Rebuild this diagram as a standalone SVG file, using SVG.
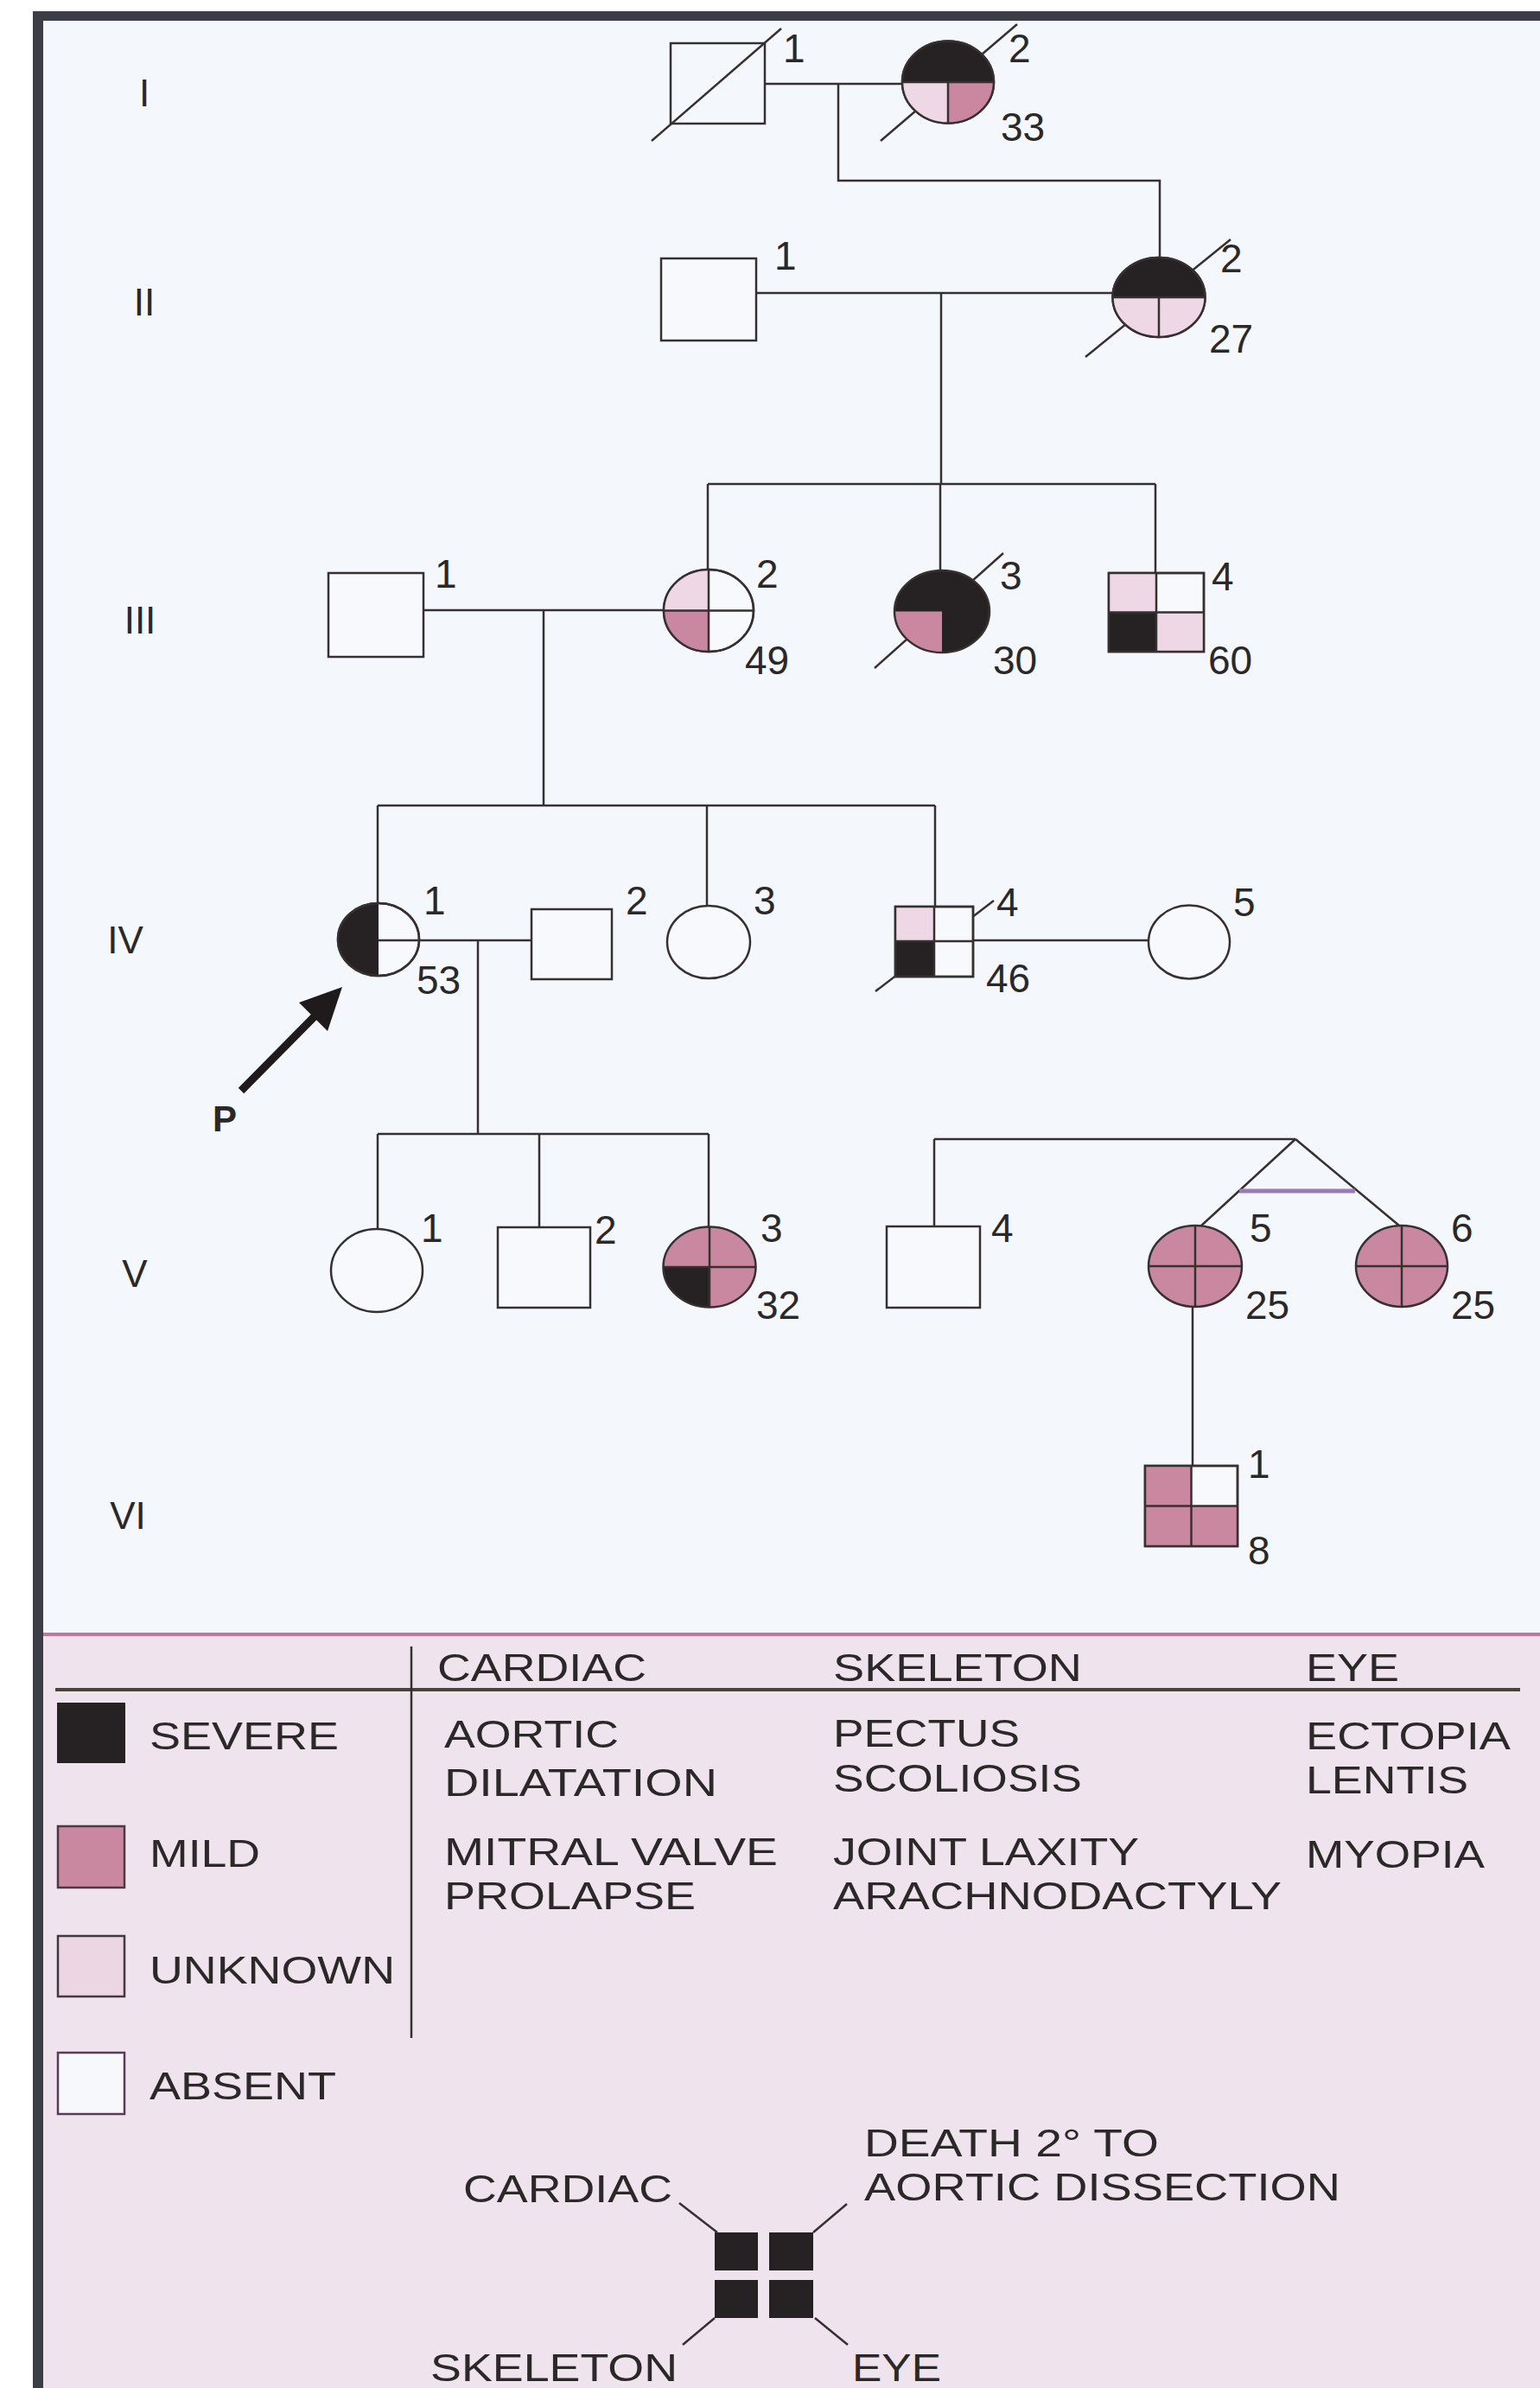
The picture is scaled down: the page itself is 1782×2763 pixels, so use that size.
<svg xmlns="http://www.w3.org/2000/svg" width="1782" height="2763" viewBox="0 0 1782 2763">
<style>
text{font-family:"Liberation Sans",Arial,Helvetica,sans-serif;fill:#2b2828}
.n{font-size:46px}
.g{font-size:44px}
.lg text{font-size:44px}
.ln{fill:none;stroke:#363031;stroke-width:2.5}
.sh{fill:none;stroke:#363031;stroke-width:2.5}
.wh{fill:#f7f9fc;stroke:#363031;stroke-width:2.5}
.bk{fill:#262122}
.md{fill:#c9889f}
.uk{fill:#efd8e5}
</style>
<rect x="0" y="0" width="1782" height="2763" fill="#ffffff"/>
<rect x="50" y="24" width="1732" height="1867" fill="#f4f8fc"/>
<rect x="50" y="1891" width="1732" height="872" fill="#efe3ee"/>
<rect x="38" y="13" width="1744" height="11" fill="#3d3d48"/>
<rect x="38" y="13" width="12" height="2750" fill="#3d3d48"/>
<line x1="50" y1="1891" x2="1782" y2="1891" stroke="#c5759a" stroke-width="4"/>

<g id="generation-labels" class="g" text-anchor="middle">
<text x="167" y="123">I</text>
<text x="167" y="365">II</text>
<text x="162" y="733">III</text>
<text x="145" y="1103">IV</text>
<text x="156" y="1489">V</text>
<text x="148" y="1769">VI</text>
</g>

<g id="connectors">
<path class="ln" d="M885,97 H1044"/>
<path class="ln" d="M970,97 V209 H1342 V298"/>
<path class="ln" d="M875,339 H1288"/>
<path class="ln" d="M1089,339 V560"/>
<path class="ln" d="M819,560 H1337"/>
<path class="ln" d="M819,560 V659 M1088,560 V660 M1337,560 V663"/>
<path class="ln" d="M490,706 H768"/>
<path class="ln" d="M629,706 V932"/>
<path class="ln" d="M437,932 H1082"/>
<path class="ln" d="M437,932 V1045 M818,932 V1048 M1082,932 V1049"/>
<path class="ln" d="M553,1088 V1312"/>
<path class="ln" d="M1126,1088 H1330"/>
<path class="ln" d="M437,1312 H820 M437,1312 V1422 M624,1312 V1420 M820,1312 V1419"/>
<path class="ln" d="M1081,1318 H1499 M1081,1318 V1419"/>
<path class="ln" d="M1499,1318 L1388,1420 M1499,1318 L1619,1418"/>
<path d="M1434,1378 H1568" fill="none" stroke="#9b7ab5" stroke-width="5"/>
<path class="ln" d="M1380,1512 V1696"/>
<g id="proband-arrow">
<line x1="279" y1="1262" x2="364" y2="1176" stroke="#1f1b1c" stroke-width="9"/>
<polygon points="396,1142 379,1193 346,1160" fill="#1f1b1c"/>
<text x="246" y="1309" style="font-size:42px;font-weight:bold">P</text>
</g>
</g>

<g id="I-1">
<rect x="776" y="50" width="109" height="93" style="fill:none;stroke:#363031;stroke-width:2.5"/>
<line class="sh" x1="754" y1="163" x2="904" y2="33"/>
<text class="n" x="906" y="72">1</text>
</g>

<g id="I-2">
<line class="sh" x1="1019" y1="163" x2="1177" y2="28"/>
<ellipse class="wh" cx="1097" cy="95" rx="53" ry="47.5"/>
<path class="bk" d="M1044,95 A53,47.5 0 0 1 1150,95 Z"/>
<path class="uk" d="M1097,95 V142.5 A53,47.5 0 0 1 1044,95 Z"/>
<path class="md" d="M1097,95 H1150 A53,47.5 0 0 1 1097,142.5 Z"/>
<path class="ln" d="M1044,95 H1150 M1097,95 V142.5"/>
<ellipse class="sh" cx="1097" cy="95" rx="53" ry="47.5"/>
<text class="n" x="1167" y="72">2</text>
<text class="n" x="1158" y="163">33</text>
</g>

<g id="II-1">
<rect class="wh" x="765" y="299" width="110" height="95"/>
<text class="n" x="896" y="312">1</text>
</g>

<g id="II-2">
<line class="sh" x1="1256" y1="413" x2="1424" y2="277"/>
<ellipse class="wh" cx="1341" cy="344" rx="53.5" ry="46"/>
<path class="bk" d="M1287.5,344 A53.5,46 0 0 1 1394.5,344 Z"/>
<path class="uk" d="M1341,344 V390 A53.5,46 0 0 1 1287.5,344 Z"/>
<path class="uk" d="M1341,344 H1394.5 A53.5,46 0 0 1 1341,390 Z"/>
<path class="ln" d="M1287.5,344 H1394.5 M1341,344 V390"/>
<ellipse class="sh" cx="1341" cy="344" rx="53.5" ry="46"/>
<text class="n" x="1412" y="315">2</text>
<text class="n" x="1399" y="408">27</text>
</g>

<g id="III-1">
<rect class="wh" x="380" y="663" width="110" height="97"/>
<text class="n" x="503" y="680">1</text>
</g>

<g id="III-2">
<ellipse class="wh" cx="820" cy="706.5" rx="52" ry="47.5"/>
<path class="uk" d="M820,706.5 H768 A52,47.5 0 0 1 820,659 Z"/>
<path class="md" d="M820,706.5 V754 A52,47.5 0 0 1 768,706.5 Z"/>
<path class="ln" d="M768,706.5 H872 M820,659 V754"/>
<ellipse class="sh" cx="820" cy="706.5" rx="52" ry="47.5"/>
<text class="n" x="875" y="680">2</text>
<text class="n" x="862" y="780">49</text>
</g>

<g id="III-3">
<line class="sh" x1="1012" y1="773" x2="1161" y2="640"/>
<ellipse class="bk" cx="1090" cy="707.5" rx="55" ry="47.5"/>
<path class="md" d="M1090,707.5 V755 A55,47.5 0 0 1 1035,707.5 Z"/>
<ellipse class="sh" cx="1090" cy="707.5" rx="55" ry="47.5"/>
<text class="n" x="1157" y="682">3</text>
<text class="n" x="1149" y="780">30</text>
</g>

<g id="III-4">
<rect class="wh" x="1283" y="663" width="110" height="91"/>
<rect class="uk" x="1283" y="663" width="55" height="45.5"/>
<rect class="bk" x="1283" y="708.5" width="55" height="45.5"/>
<rect class="uk" x="1338" y="708.5" width="55" height="45.5"/>
<path class="ln" d="M1283,708.5 H1393 M1338,663 V754"/>
<rect class="sh" x="1283" y="663" width="110" height="91"/>
<text class="n" x="1402" y="683">4</text>
<text class="n" x="1398" y="780">60</text>
</g>

<g id="IV-1">
<ellipse class="wh" cx="438" cy="1087" rx="47" ry="42"/>
<path class="bk" d="M438,1129 A47,42 0 0 1 438,1045 Z"/>
<ellipse class="sh" cx="438" cy="1087" rx="47" ry="42"/>
<path class="ln" d="M438,1088 H615"/>
<text class="n" x="490" y="1058">1</text>
<text class="n" x="482" y="1150">53</text>
</g>

<g id="IV-2">
<rect class="wh" x="615" y="1052" width="93" height="81"/>
<text class="n" x="724" y="1058">2</text>
</g>

<g id="IV-3">
<ellipse class="wh" cx="820" cy="1090" rx="48" ry="42"/>
<text class="n" x="872" y="1058">3</text>
</g>

<g id="IV-4">
<line class="sh" x1="1013" y1="1147" x2="1150" y2="1042"/>
<rect class="wh" x="1036" y="1049" width="90" height="81"/>
<rect class="uk" x="1036" y="1049" width="45" height="40.5"/>
<rect class="bk" x="1036" y="1089.5" width="45" height="40.5"/>
<path class="ln" d="M1036,1089 H1126 M1081,1049 V1130"/>
<rect class="sh" x="1036" y="1049" width="90" height="81"/>
<text class="n" x="1153" y="1060">4</text>
<text class="n" x="1141" y="1148">46</text>
</g>

<g id="IV-5">
<ellipse class="wh" cx="1376" cy="1090" rx="47" ry="42.5"/>
<text class="n" x="1427" y="1060">5</text>
</g>

<g id="V-1">
<ellipse class="wh" cx="436" cy="1470" rx="53" ry="48"/>
<text class="n" x="487" y="1437">1</text>
</g>

<g id="V-2">
<rect class="wh" x="576" y="1420" width="107" height="93"/>
<text class="n" x="688" y="1439">2</text>
</g>

<g id="V-3">
<ellipse class="md" cx="821" cy="1466" rx="53.5" ry="46.5"/>
<path class="bk" d="M821,1466 V1512.5 A53.5,46.5 0 0 1 767.5,1466 Z"/>
<path class="ln" d="M767.5,1466 H874.5 M821,1419.5 V1512.5"/>
<ellipse class="sh" cx="821" cy="1466" rx="53.5" ry="46.5"/>
<text class="n" x="880" y="1437">3</text>
<text class="n" x="875" y="1526">32</text>
</g>

<g id="V-4">
<rect class="wh" x="1026" y="1419" width="108" height="94"/>
<text class="n" x="1147" y="1437">4</text>
</g>

<g id="V-5">
<ellipse class="md" cx="1383" cy="1465" rx="54" ry="47"/>
<path class="ln" d="M1329,1465 H1437 M1383,1418 V1512"/>
<ellipse class="sh" cx="1383" cy="1465" rx="54" ry="47"/>
<text class="n" x="1446" y="1437">5</text>
<text class="n" x="1441" y="1526">25</text>
</g>

<g id="V-6">
<ellipse class="md" cx="1622" cy="1465" rx="53" ry="47"/>
<path class="ln" d="M1569,1465 H1675 M1622,1418 V1512"/>
<ellipse class="sh" cx="1622" cy="1465" rx="53" ry="47"/>
<text class="n" x="1679" y="1437">6</text>
<text class="n" x="1679" y="1526">25</text>
</g>

<g id="VI-1">
<rect class="wh" x="1325" y="1696" width="107" height="93"/>
<rect class="md" x="1325" y="1696" width="53.5" height="46.5"/>
<rect class="md" x="1325" y="1742.5" width="53.5" height="46.5"/>
<rect class="md" x="1378.5" y="1742.5" width="53.5" height="46.5"/>
<path class="ln" d="M1325,1742.5 H1432 M1378.5,1696 V1789"/>
<rect class="sh" x="1325" y="1696" width="107" height="93"/>
<text class="n" x="1444" y="1710">1</text>
<text class="n" x="1444" y="1810">8</text>
</g>

<g id="legend" class="lg">
<line x1="64" y1="1955" x2="1759" y2="1955" stroke="#45453a" stroke-width="4"/>
<line x1="476" y1="1905" x2="476" y2="2358" stroke="#363031" stroke-width="2.5"/>
<text x="506" y="1945" textLength="242" lengthAdjust="spacingAndGlyphs">CARDIAC</text>
<text x="964" y="1945" textLength="288" lengthAdjust="spacingAndGlyphs">SKELETON</text>
<text x="1511" y="1945" textLength="108" lengthAdjust="spacingAndGlyphs">EYE</text>
<rect x="66" y="1970" width="79" height="70" fill="#262122"/>
<text x="173" y="2024" textLength="219" lengthAdjust="spacingAndGlyphs">SEVERE</text>
<text x="514" y="2022" textLength="202" lengthAdjust="spacingAndGlyphs">AORTIC</text>
<text x="514" y="2078" textLength="316" lengthAdjust="spacingAndGlyphs">DILATATION</text>
<text x="964" y="2021" textLength="216" lengthAdjust="spacingAndGlyphs">PECTUS</text>
<text x="964" y="2073" textLength="288" lengthAdjust="spacingAndGlyphs">SCOLIOSIS</text>
<text x="1511" y="2024" textLength="237" lengthAdjust="spacingAndGlyphs">ECTOPIA</text>
<text x="1511" y="2075" textLength="188" lengthAdjust="spacingAndGlyphs">LENTIS</text>
<rect x="67" y="2113" width="77" height="71" fill="#c9889f" stroke="#4a3a40" stroke-width="2.5"/>
<text x="173" y="2160" textLength="128" lengthAdjust="spacingAndGlyphs">MILD</text>
<text x="514" y="2158" textLength="386" lengthAdjust="spacingAndGlyphs">MITRAL VALVE</text>
<text x="514" y="2209" textLength="291" lengthAdjust="spacingAndGlyphs">PROLAPSE</text>
<text x="964" y="2158" textLength="354" lengthAdjust="spacingAndGlyphs">JOINT LAXITY</text>
<text x="964" y="2209" textLength="519" lengthAdjust="spacingAndGlyphs">ARACHNODACTYLY</text>
<text x="1511" y="2161" textLength="207" lengthAdjust="spacingAndGlyphs">MYOPIA</text>
<rect x="67" y="2240" width="77" height="70" fill="#ecd6e3" stroke="#3f3a3c" stroke-width="2.5"/>
<text x="173" y="2295" textLength="284" lengthAdjust="spacingAndGlyphs">UNKNOWN</text>
<rect x="67" y="2375" width="77" height="71" fill="#f6f8fc" stroke="#5a3a58" stroke-width="2.5"/>
<text x="173" y="2429" textLength="216" lengthAdjust="spacingAndGlyphs">ABSENT</text>
</g>

<g id="legend-key" class="lg">
<text x="1000" y="2495" textLength="341" lengthAdjust="spacingAndGlyphs">DEATH 2° TO</text>
<text x="1000" y="2546" textLength="551" lengthAdjust="spacingAndGlyphs">AORTIC DISSECTION</text>
<text x="536" y="2548" textLength="242" lengthAdjust="spacingAndGlyphs">CARDIAC</text>
<text x="498" y="2755" textLength="286" lengthAdjust="spacingAndGlyphs">SKELETON</text>
<text x="986" y="2755" textLength="103" lengthAdjust="spacingAndGlyphs">EYE</text>
<rect x="827" y="2583" width="50" height="44" fill="#262122"/>
<rect x="890" y="2583" width="51" height="44" fill="#262122"/>
<rect x="827" y="2638" width="50" height="44" fill="#262122"/>
<rect x="890" y="2638" width="51" height="44" fill="#262122"/>
<path class="ln" d="M786,2549 L830,2583 M980,2550 L941,2583 M827,2682 L790,2713 M943,2682 L981,2713"/>
</g>
</svg>
